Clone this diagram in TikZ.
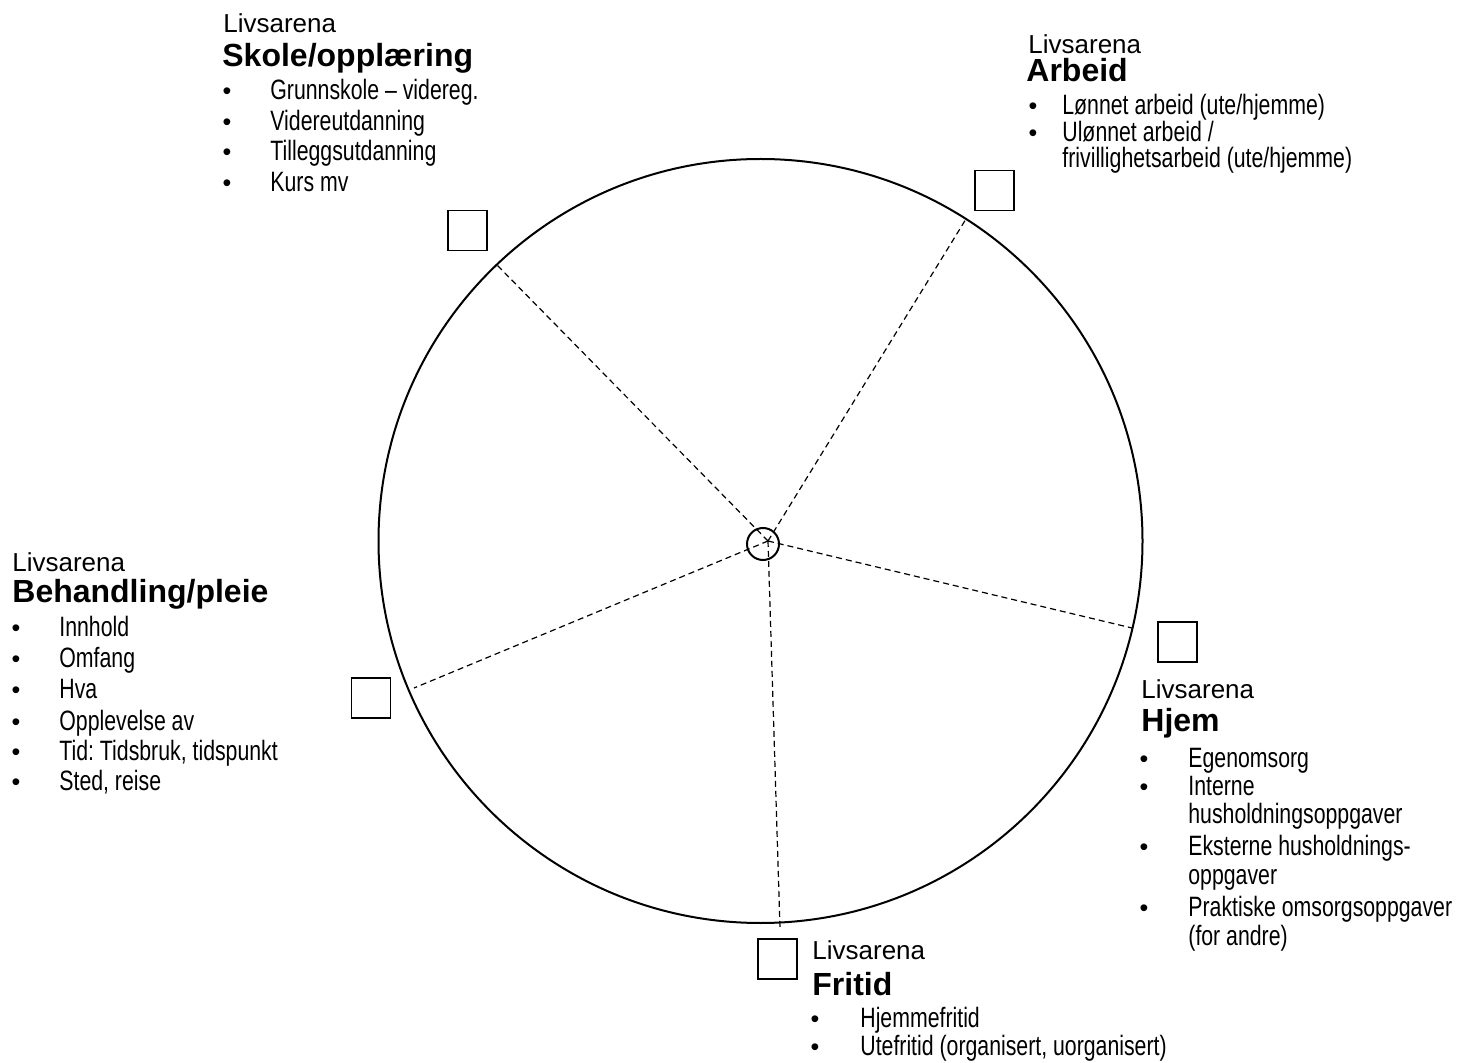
\documentclass[tikz,border=0pt]{standalone}
\usepackage{fontspec}
\setmainfont{Liberation Sans}
\newfontfamily\narrowf[FakeStretch=0.76]{Liberation Sans}
\frenchspacing
\begin{document}
\begin{tikzpicture}[x=0.5pt,y=-0.5pt,
  lbl/.style={anchor=base west,inner sep=0pt,font=\fontsize{13pt}{15pt}\selectfont},
  ttl/.style={anchor=base west,inner sep=0pt,font=\fontsize{16pt}{19pt}\selectfont\bfseries},
  itm/.style={anchor=base west,inner sep=0pt,font=\narrowf\fontsize{14pt}{16pt}\selectfont},
  bul/.style={anchor=base,inner sep=0pt,font=\fontsize{12.5pt}{14pt}\selectfont},
  tick/.style={draw,line width=0.8pt,minimum width=19.5pt,minimum height=20pt,inner sep=0pt},
  spoke/.style={line width=0.6pt,dash pattern=on 3pt off 2pt}]
\useasboundingbox (0,0) rectangle (1462,1063);
% wheel
\draw[line width=1pt] (760.5,541) circle[radius=382];
\coordinate (hub) at (768,541);
\coordinate (pUL) at (497,265);
\coordinate (pUR) at (966,219);
\coordinate (pR) at (1132,628);
\coordinate (pB) at (780,928);
\coordinate (pL) at (414,688);
\foreach \p in {pUL,pUR,pR,pB,pL} \draw[spoke] (hub) -- (\p);
\node[circle,draw,line width=1pt,minimum size=16pt,inner sep=0pt] (hubring) at (763,544) {};
% boxes
\node[tick] (bS) at (467.5,230.5) {};
\node[tick] (bA) at (994.5,190.5) {};
\node[tick] (bH) at (1177.5,642) {};
\node[tick] (bB) at (371,698) {};
\node[tick] (bF) at (777.5,959) {};
% Skole
\node[lbl] (sL) at (223,33) {Livsarena};
\node[ttl] (sT) at (222,67) {Skole/opplæring};
\node[bul] (sb1) at (227,100) {•}; \node[itm] (s1) at (270,100) {Grunnskole – videreg.};
\node[bul] (sb2) at (227,131) {•}; \node[itm] (s2) at (270,131) {Videreutdanning};
\node[bul] (sb3) at (227,161) {•}; \node[itm] (s3) at (270,161) {Tilleggsutdanning};
\node[bul] (sb4) at (227,192) {•}; \node[itm] (s4) at (270,192) {Kurs mv};
% Arbeid
\node[lbl] (aL) at (1028,54) {Livsarena};
\node[ttl] (aT) at (1026,82) {Arbeid};
\node[bul] (ab1) at (1033,115) {•}; \node[itm] (a1) at (1062,115) {Lønnet arbeid (ute/hjemme)};
\node[bul] (ab2) at (1033,142) {•}; \node[itm] (a2) at (1062,142) {Ulønnet arbeid /};
\node[itm] (a3) at (1062,168) {frivillighetsarbeid (ute/hjemme)};
% Behandling
\node[lbl] (bL) at (12,572) {Livsarena};
\node[ttl] (bT) at (12,603) {Behandling/pleie};
\node[bul] (bb1) at (16,637) {•}; \node[itm] (b1) at (59,637) {Innhold};
\node[bul] (bb2) at (16,668) {•}; \node[itm] (b2) at (59,668) {Omfang};
\node[bul] (bb3) at (16,698) {•}; \node[itm] (b3) at (59,698) {Hva};
\node[bul] (bb4) at (16,730) {•}; \node[itm] (b4) at (59,730) {Opplevelse av};
\node[bul] (bb5) at (16,760) {•}; \node[itm] (b5) at (59,760) {Tid: Tidsbruk, tidspunkt};
\node[bul] (bb6) at (16,790) {•}; \node[itm] (b6) at (59,790) {Sted, reise};
% Hjem
\node[lbl] (hL) at (1141,698) {Livsarena};
\node[ttl] (hT) at (1141,732) {Hjem};
\node[bul] (hb1) at (1144,767) {•}; \node[itm] (h1) at (1188,767) {Egenomsorg};
\node[bul] (hb2) at (1144,795) {•}; \node[itm] (h2) at (1188,795) {Interne};
\node[itm] (h3) at (1188,823) {husholdningsoppgaver};
\node[bul] (hb3) at (1144,855) {•}; \node[itm] (h4) at (1188,855) {Eksterne husholdnings-};
\node[itm] (h5) at (1188,884) {oppgaver};
\node[bul] (hb4) at (1144,916) {•}; \node[itm] (h6) at (1188,916) {Praktiske omsorgsoppgaver};
\node[itm] (h7) at (1188,945) {(for andre)};
% Fritid
\node[lbl] (fL) at (812,959) {Livsarena};
\node[ttl] (fT) at (812,995) {Fritid};
\node[bul] (fb1) at (815,1027) {•}; \node[itm] (f1) at (860,1027) {Hjemmefritid};
\node[bul] (fb2) at (815,1055) {•}; \node[itm] (f2) at (860,1055) {Utefritid (organisert, uorganisert)};
\end{tikzpicture}
\end{document}
